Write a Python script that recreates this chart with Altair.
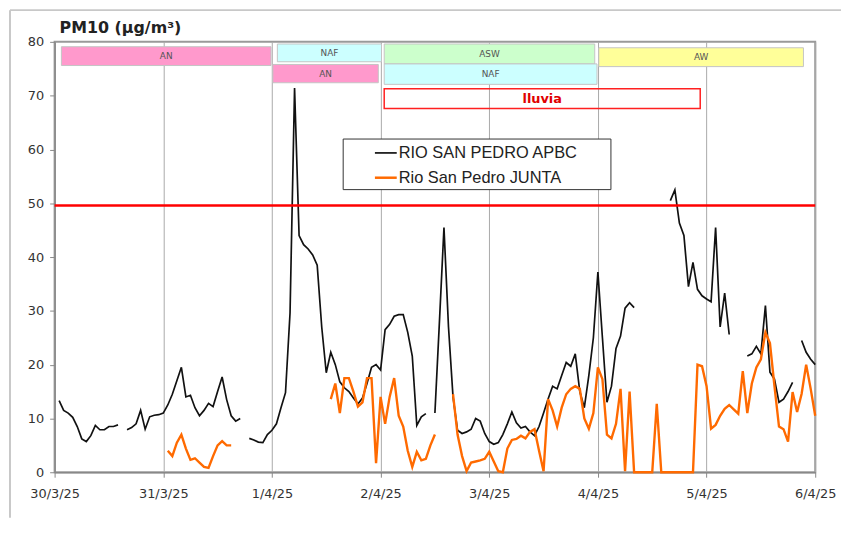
import json
import altair as alt
import pandas as pd

# ---------------- data ----------------
tick_labels = ["30/3/25", "31/3/25", "1/4/25", "2/4/25", "3/4/25", "4/4/25", "5/4/25", "6/4/25"]
series_names = ["RIO SAN PEDRO APBC", "Rio San Pedro JUNTA"]
series_colors = ["#111111", "#ff6a00"]
title_text = "PM10 (µg/m³)"

# hourly PM10, RIO SAN PEDRO APBC (one list per day, 0h..23h; last day ends at 6/4 0h)
apbc_d0 = [None, 13.3, 11.5, 11, 10.2, 8.5, 6.2, 5.7, 6.8, 8.7, 7.9, 7.9, 8.5, 8.5, 8.8, None,
           7.9, 8.3, 9, 11.5, 8, 10.3, 10.6, 10.7]
apbc_d1 = [11, 12.5, 14.5, 17, 19.5, 14, 14.3, 12, 10.5, 11.5, 12.8, 12.2, 15, 17.7, 13.5, 10.5,
           9.5, 10, None, 6.3, 6, 5.6, 5.5, 7]
apbc_d2 = [7.8, 9, 12, 14.8, 29.6, 71.4, 44, 42.3, 41.5, 40.4, 38.5, 27, 18.5, 22.3, 20, 16.8,
           15.7, 15, 13.8, 12.7, 13.8, 16.5, 19.5, 20]
apbc_d3 = [19, 26.5, 27.5, 29, 29.3, 29.3, 26, 21.6, 8.7, 10.3, 10.9, None, 11, 28, 45.5, 27,
           14, 7.8, 7.2, 7.5, 8, 10, 9.5, 7.2]
apbc_d4 = [5.7, 5.2, 5.5, 7, 9, 11.2, 9.2, 8.2, 8.5, 7.5, 6.8, 8.5, 11, 13.6, 16, 15.5,
           18, 20.4, 19.7, 22, 15, 12, 18, 25]
apbc_d5 = [37.2, 25, 13, 16, 23, 25.3, 30.5, 31.5, 30.6, None, None, None, None, None, None, None,
           50.5, 52.5, 46.3, 44, 34.5, 39, 34, 32.8]
apbc_d6 = [32.2, 31.7, 45.5, 27, 33.3, 25.6, None, None, None, 21.6, 22, 23.4, 22, 31, 18.6, 17.3,
           13, 13.6, 15, 16.7, None, 24.5, 22.3, 21, 20]

# hourly PM10, Rio San Pedro JUNTA
junta_d0 = [None] * 24
junta_d1 = [None, 4, 3, 5.5, 7, 4.4, 2.3, 2.6, 1.8, 1, 0.8, 3, 5, 5.8, 5, 5,
            None, None, None, None, None, None, None, None]
junta_d2 = [None, None, None, None, None, None, None, None, None, None, None, None, None, 13.6, 16.5, 11,
            17.5, 17.5, 15, 12.2, 13, 17.5, 17.5, 1.7]
junta_d3 = [14, 9, 14, 17.5, 10.5, 8.5, 4, 1, 3.8, 2.2, 2.5, 5, 7, None, None, None,
            14.5, 7, 3, 0.2, 1.8, 2, 2.2, 2.5]
junta_d4 = [3.8, 2, 0.2, 0, 4.4, 6, 6.2, 6.8, 6.3, 7.5, 8, 4, 0.2, 13.6, 11.5, 8.5,
            12, 14.5, 15.5, 16, 15.5, 10, 8.1, 11]
junta_d5 = [19.5, 17.3, 7, 6.3, 9, 15.5, 0.2, 15, 0, 0, 0, 0, 0, 12.7, 0, 0,
            0, 0, 0, 0, 0, 0, 20, 19.7]
junta_d6 = [16, 8.1, 8.8, 10.5, 11.8, 12.5, 11.7, 10.9, 18.8, 11, 16.5, 19.5, 21, 26, 24, 16,
            8.5, 8, 5.7, 14.9, 11.2, 14.6, 20, 15.5, 10.5]

# air-mass episodes (hours from 30/3 0h, PM10 units for vertical placement)
band_labels = ["AN", "NAF", "AN", "ASW", "NAF", "AW"]
band_colors = ["#ff99cc", "#ccffff", "#ff99cc", "#ccffcc", "#ccffff", "#ffff99"]
band_start = [1.5, 49.2, 48.2, 72.8, 72.8, 120.2]
band_end = [47.8, 72.2, 71.5, 119.3, 119.8, 165.4]
band_low = [75.6, 76.3, 72.4, 75.9, 72.1, 75.4]
band_high = [79.1, 79.6, 75.8, 79.6, 75.9, 78.9]

rain_label = ["lluvia"]
rain_start = [72.8]
rain_end = [142.6]
rain_low = [67.6]
rain_high = [71.3]

limit_value = [49.6]

# ---------------- frames ----------------
apbc = apbc_d0 + apbc_d1 + apbc_d2 + apbc_d3 + apbc_d4 + apbc_d5 + apbc_d6
junta = junta_d0 + junta_d1 + junta_d2 + junta_d3 + junta_d4 + junta_d5 + junta_d6
hours = list(range(len(apbc)))

df_a = pd.DataFrame({"hour": hours, "value": [float("nan") if v is None else v for v in apbc]})
df_j = pd.DataFrame({"hour": hours, "value": [float("nan") if v is None else v for v in junta]})
df_b = pd.DataFrame({"label": band_labels, "color": band_colors, "x0": band_start,
                     "x1": band_end, "y0": band_low, "y1": band_high})
df_b["xm"] = (df_b["x0"] + df_b["x1"]) / 2
df_b["ym"] = (df_b["y0"] + df_b["y1"]) / 2
df_r = pd.DataFrame({"label": rain_label, "x0": rain_start, "x1": rain_end,
                     "y0": rain_low, "y1": rain_high})
df_r["xm"] = (df_r["x0"] + df_r["x1"]) / 2
df_r["ym"] = (df_r["y0"] + df_r["y1"]) / 2
df_l = pd.DataFrame({"limite": limit_value})
one = pd.DataFrame({"n": [0]})

X_MAX = 24 * (len(tick_labels) - 1)
xscale = alt.Scale(domain=[0, X_MAX], nice=False, zero=False)
yscale = alt.Scale(domain=[0, 80], nice=False)

label_expr = json.dumps(tick_labels) + "[round(datum.value / 24)]"
x_axis = alt.Axis(values=list(range(0, X_MAX + 1, 24)), labelExpr=label_expr, title=None,
                  grid=True, gridColor="#a9a9a9", gridWidth=1, tickSize=5, tickColor="#888",
                  domainColor="#888", domainWidth=1.5, labelFont="DejaVu Sans", labelFontSize=13,
                  labelColor="#333", labelPadding=10, labelFlush=False, labelOverlap=False)
y_axis = alt.Axis(values=list(range(0, 81, 10)), title=None, grid=False, tickSize=5,
                  tickColor="#888", domainColor="#888", domainWidth=1.5,
                  labelFont="DejaVu Sans", labelFontSize=13, labelColor="#333", labelPadding=6)


def X(field):
    return alt.X(field, scale=xscale, axis=x_axis)


def Y(field):
    return alt.Y(field, scale=yscale, axis=y_axis)


# ---------------- layers ----------------
line_a = alt.Chart(df_a).mark_line(color=series_colors[0], strokeWidth=1.7,
                                   invalid="break-paths-filter-domains").encode(
    x=X("hour:Q"), y=Y("value:Q"))
line_j = alt.Chart(df_j).mark_line(color=series_colors[1], strokeWidth=2.4,
                                   invalid="break-paths-filter-domains").encode(
    x=X("hour:Q"), y=Y("value:Q"))

limit = alt.Chart(df_l).mark_rule(color="#ff0000", strokeWidth=2.5).encode(y=Y("limite:Q"))

bands = alt.Chart(df_b).mark_rect(stroke="#c4c4c4", strokeWidth=1).encode(
    x=X("x0:Q"), x2="x1:Q", y=Y("y0:Q"), y2="y1:Q",
    color=alt.Color("color:N", scale=None),
)
band_text = alt.Chart(df_b).mark_text(font="DejaVu Sans", fontSize=9, color="#555555",
                                      baseline="middle", align="center").encode(
    x=X("xm:Q"), y=Y("ym:Q"), text="label:N")
rain = alt.Chart(df_r).mark_rect(fill=None, stroke="#ff2020", strokeWidth=1.5).encode(
    x=X("x0:Q"), x2="x1:Q", y=Y("y0:Q"), y2="y1:Q")
rain_text = alt.Chart(df_r).mark_text(font="DejaVu Sans", fontSize=13, fontWeight="bold",
                                      color="#e00000", baseline="middle", align="center").encode(
    x=X("xm:Q"), y=Y("ym:Q"), text="label:N")

# manual legend box
leg_box = alt.Chart(one).mark_rect(fill="white", stroke="#333333", strokeWidth=1).encode(
    x=alt.value(291), x2=alt.value(561), y=alt.value(98), y2=alt.value(149)
)
leg_layers = []
for i, (nm, col) in enumerate(zip(series_names, series_colors)):
    yy = 112 + 25 * i
    leg_layers.append(alt.Chart(one).mark_rule(color=col, strokeWidth=1.7 if i == 0 else 2.5).encode(
        x=alt.value(323), x2=alt.value(345), y=alt.value(yy)))
    leg_layers.append(alt.Chart(one).mark_text(text=nm, font="Liberation Sans", fontSize=16.5,
                                               color="#222222", align="left", baseline="middle").encode(
        x=alt.value(347), y=alt.value(yy)))

title = alt.Chart(one).mark_text(text=title_text, font="DejaVu Sans", fontSize=16, fontWeight="bold",
                                 color="#222222", align="left", baseline="alphabetic").encode(
    x=alt.value(5), y=alt.value(-9)
)

border_left = alt.Chart(one).mark_rule(color="#c8c8c8", strokeWidth=2).encode(
    x=alt.value(-45), y=alt.value(-32), y2=alt.value(480)
)
border_top = alt.Chart(one).mark_rule(color="#c8c8c8", strokeWidth=2).encode(
    x=alt.value(-45), x2=alt.value(800), y=alt.value(-32)
)

chart = alt.layer(
    line_a, bands, band_text, rain, rain_text, limit, line_j, leg_box, *leg_layers,
    title, border_left, border_top
).properties(
    width=767, height=434,
    autosize=alt.AutoSizeParams(type="none"),
    padding={"left": 47, "top": 32, "right": 26, "bottom": 44},
    background="white",
).configure_view(stroke="#999999", strokeWidth=2)

chart.save("out.html", embed_options={"renderer": "svg", "actions": False})
